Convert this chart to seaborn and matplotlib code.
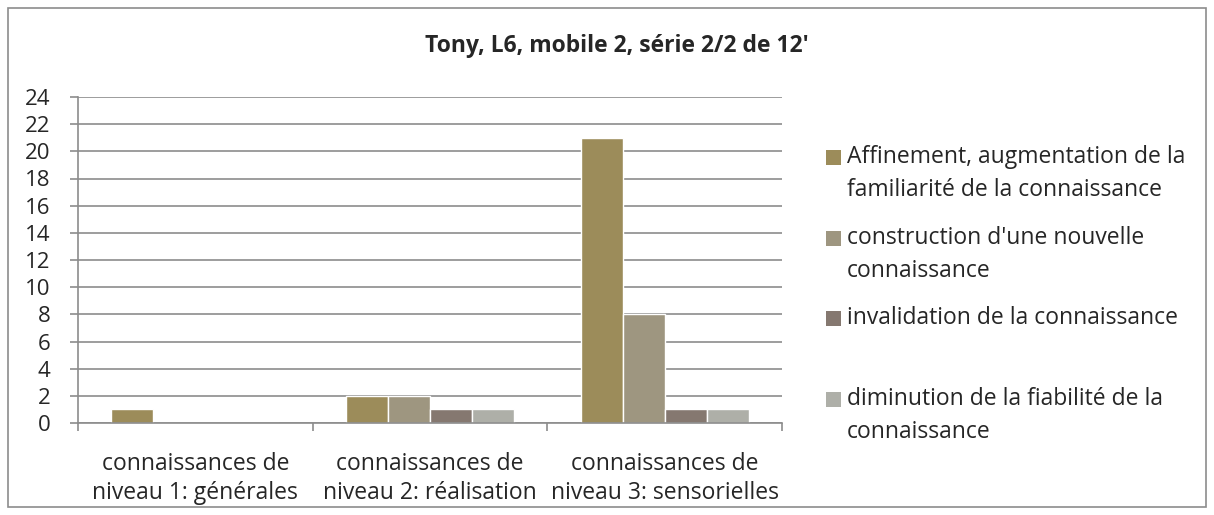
import pandas as pd
import seaborn as sns
import matplotlib.pyplot as plt
from matplotlib.patches import Rectangle

categories = ['connaissances de\nniveau 1: générales',
              'connaissances de\nniveau 2: réalisation',
              'connaissances de\nniveau 3: sensorielles']
series = ['Affinement, augmentation de la\nfamiliarité de la connaissance',
          "construction d'une nouvelle\nconnaissance",
          'invalidation de la connaissance',
          'diminution de la fiabilité de la\nconnaissance']
affinement = [1, 2, 21]
construction = [0, 2, 8]
invalidation = [0, 1, 1]
diminution = [0, 1, 1]
colors = ['#9c8c5a', '#9e9680', '#857870', '#aeafa8']

values = [affinement, construction, invalidation, diminution]
rows = []
for s, vals in zip(series, values):
    for c, v in zip(categories, vals):
        rows.append({'cat': c, 'serie': s, 'val': v})
df = pd.DataFrame(rows)

sns.set_style('white')
plt.rcParams['font.family'] = ['Open Sans', 'DejaVu Sans']

W, H = 1214, 515
fig = plt.figure(figsize=(W / 100, H / 100), dpi=100)
ax = fig.add_axes([78 / W, 1 - 423 / H, 704 / W, 326 / H])

sns.barplot(data=df, x='cat', y='val', hue='serie', palette=colors,
            width=0.716, gap=0, saturation=1, ax=ax, legend=False)

ax.set_ylim(0, 24)
ax.set_yticks(range(0, 25, 2))
ax.set_xlim(-0.5, 2.5)
ax.yaxis.grid(True, color='#8c8c8c', linewidth=1.2)
ax.set_axisbelow(True)
ax.set_xlabel('')
ax.set_ylabel('')
for side in ['top', 'right']:
    ax.spines[side].set_visible(False)
for side in ['left', 'bottom']:
    ax.spines[side].set_color('#8c8c8c')
    ax.spines[side].set_linewidth(1.2)
ax.tick_params(axis='y', labelsize=16, length=6, width=1.2, color='#8c8c8c',
               direction='out', left=True, pad=14)
ax.tick_params(axis='x', which='major', labelsize=16.5, length=0, pad=21)
for t in ax.get_xticklabels():
    t.set_linespacing(1.25)
ax.set_xticks([-0.5, 0.5, 1.5, 2.5], minor=True)
ax.tick_params(axis='x', which='minor', length=6, width=1.2, color='#8c8c8c',
               direction='out', bottom=True)

# legend, laid out like the Excel one
entry_y = [158, 239, 319, 400]
line_gap = 33
for s, col, y0 in zip(series, colors, entry_y):
    fig.patches.append(Rectangle((826 / W, 1 - (y0 + 7) / H), 15 / W, 15 / H,
                                 transform=fig.transFigure, facecolor=col,
                                 edgecolor='none'))
    for i, line in enumerate(s.split('\n')):
        fig.text(847 / W, 1 - (y0 - 1 + i * line_gap) / H, line,
                 ha='left', va='center', fontsize=16.5)

fig.text(617 / W, 1 - 46 / H, "Tony, L6, mobile 2, série 2/2 de 12'", ha='center',
         va='center', fontsize=16.5, fontweight='bold')

fig.patches.append(Rectangle((8 / W, 8 / H), 1 - 16 / W, 1 - 16 / H,
                             transform=fig.transFigure, fill=False,
                             edgecolor='#8c8c8c', linewidth=1.2))

fig.savefig('out.png', dpi=100)
